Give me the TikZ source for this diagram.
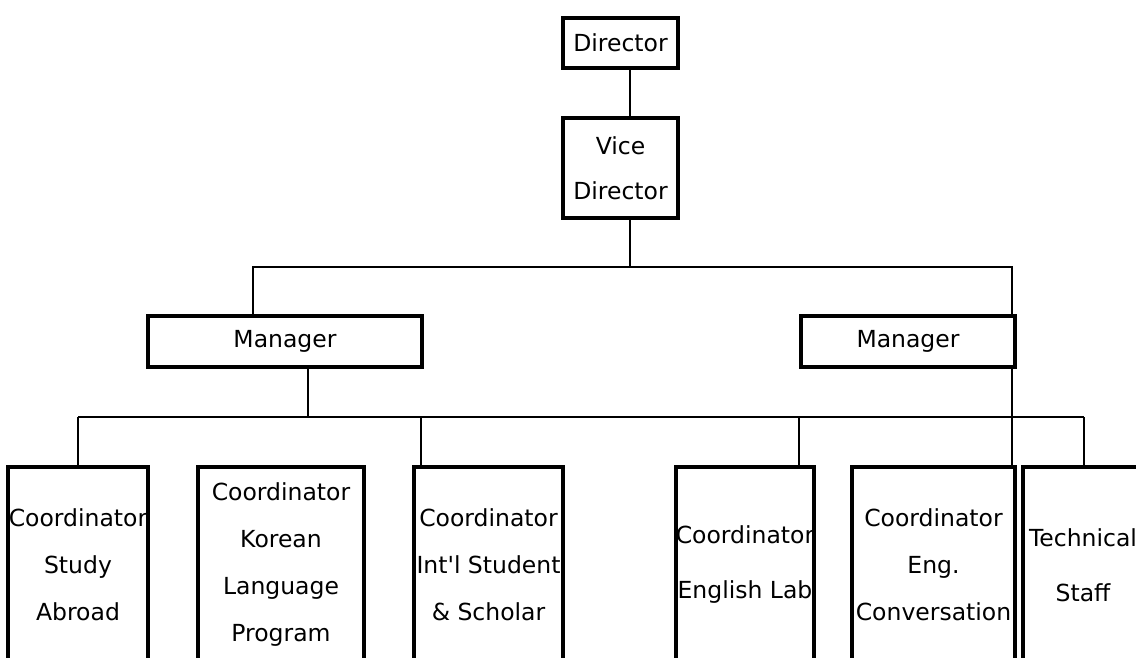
\documentclass[tikz,border=0pt]{standalone}
\usepackage{fontspec}
\setmainfont{DejaVu Sans}
\begin{document}
\begin{tikzpicture}[x=1pt,y=-1pt,
  orgbox/.style={draw, line width=3.8pt, inner sep=0pt, align=center, font=\fontsize{23.5}{47}\selectfont},
  wide/.style={font=\fontsize{23.5}{55}\selectfont},
  vspace/.style={font=\fontsize{23.5}{45}\selectfont},
  conn/.style={line width=1.3pt}]
\clip (0,0) rectangle (1136,657);
\fill[white] (0,0) rectangle (1136,657);
% top nodes
\node[orgbox, minimum width=115, minimum height=50] (dir) at (620.5,43) {Director};
\node[orgbox, vspace, minimum width=115, minimum height=100] (vd) at (620.5,168) {Vice\\Director};
\node[orgbox, minimum width=274, minimum height=51] (mL) at (285,341.5) {Manager};
\node[orgbox, minimum width=214, minimum height=51] (mR) at (908,341.5) {Manager};
% child boxes
\node[orgbox, minimum width=140, minimum height=196] (c1) at (78,565) {Coordinator\\Study\\Abroad};
\node[orgbox, minimum width=166, minimum height=196] (c2) at (281,565) {Coordinator\\Korean\\Language\\Program};
\node[orgbox, minimum width=149, minimum height=196] (c3) at (488.5,565) {Coordinator\\Int\textquotesingle l Student\\\& Scholar};
\node[orgbox, wide, minimum width=136, minimum height=196] (c4) at (745,565) {Coordinator\\English Lab};
\node[orgbox, minimum width=163, minimum height=196] (c5) at (933.5,565) {Coordinator\\Eng.\\Conversation};
\node[orgbox, wide, minimum width=120, minimum height=196] (c6) at (1083,565) {Technical\\Staff};
% junctions
\coordinate (j0) at (630,267);
\coordinate (busL) at (253,267);
\coordinate (busR) at (1012,267);
\coordinate (j1) at (308,417);
\coordinate (b2L) at (78,417);
\coordinate (b2R) at (1084,417);
\coordinate (x3) at (421,417);
\coordinate (x4) at (799,417);
% connectors
\draw[conn] (dir.south -| j0) -- (vd.north -| j0);
\draw[conn] (vd.south -| j0) -- (j0);
\draw[conn] (mL.north -| busL) -- (busL) -- (busR) -- (mR.north -| busR);
\draw[conn] (mR.south -| busR) -- (c5.north -| busR);
\draw[conn] (mL.south -| j1) -- (j1);
\draw[conn] (b2L) -- (b2R);
\draw[conn] (b2L) -- (c1.north -| b2L);
\draw[conn] (x3) -- (c3.north -| x3);
\draw[conn] (x4) -- (c4.north -| x4);
\draw[conn] (b2R) -- (c6.north -| b2R);
\end{tikzpicture}
\end{document}
